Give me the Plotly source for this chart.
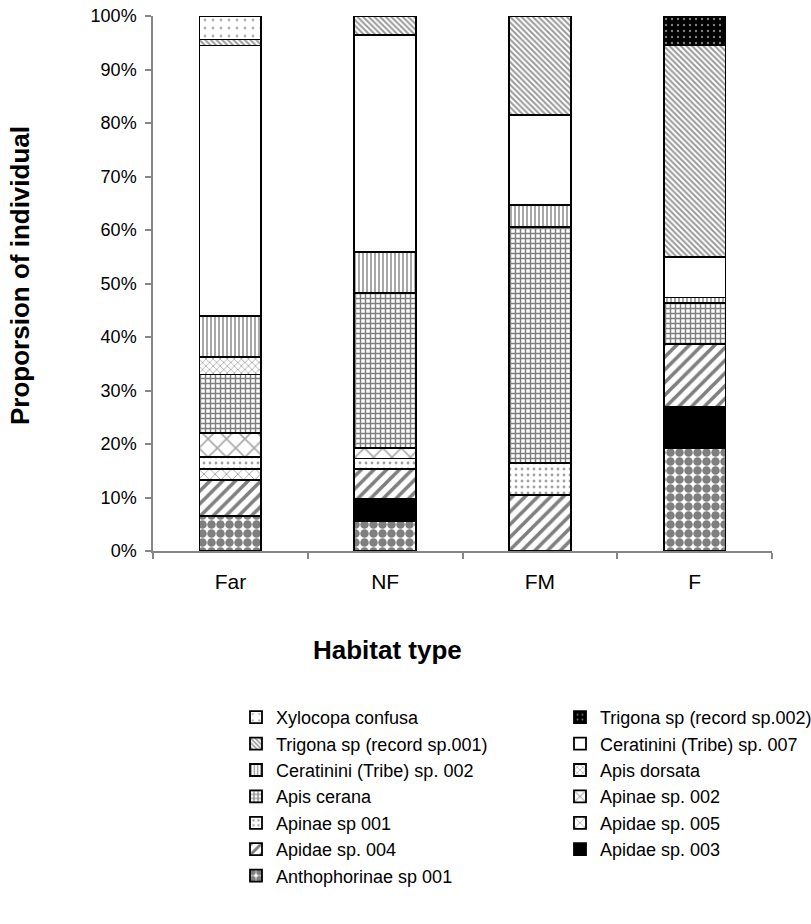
import plotly.graph_objects as go

categories = ["Far", "NF", "FM", "F"]

# Stacking order, bottom to top (legend shows them reversed)
species = [
    "Anthophorinae sp 001",
    "Apidae sp. 003",
    "Apidae sp. 004",
    "Apidae sp. 005",
    "Apinae sp 001",
    "Apinae sp. 002",
    "Apis cerana",
    "Apis dorsata",
    "Ceratinini (Tribe) sp. 002",
    "Ceratinini (Tribe) sp. 007",
    "Trigona sp (record sp.001)",
    "Trigona sp (record sp.002)",
    "Xylocopa confusa",
]

anthophorinae_sp001 = [6.6, 5.6, 0, 19.2]
apidae_sp003 = [0, 4.1, 0, 7.7]
apidae_sp004 = [6.6, 5.7, 10.5, 11.8]
apidae_sp005 = [2.2, 0, 0, 0]
apinae_sp001 = [2.2, 1.9, 6.0, 0]
apinae_sp002 = [4.4, 1.9, 0, 0]
apis_cerana = [11.0, 29.1, 44.0, 7.7]
apis_dorsata = [3.3, 0, 0, 0]
ceratinini_sp002 = [7.7, 7.6, 4.1, 1.0]
ceratinini_sp007 = [50.5, 40.5, 16.9, 7.5]
trigona_sp001 = [1.1, 3.6, 18.5, 39.6]
trigona_sp002 = [0, 0, 0, 5.5]
xylocopa_confusa = [4.4, 0, 0, 0]

values = [
    anthophorinae_sp001, apidae_sp003, apidae_sp004, apidae_sp005,
    apinae_sp001, apinae_sp002, apis_cerana, apis_dorsata,
    ceratinini_sp002, ceratinini_sp007, trigona_sp001, trigona_sp002,
    xylocopa_confusa,
]

y_ticks = [0, 10, 20, 30, 40, 50, 60, 70, 80, 90, 100]

x_title = "Habitat type"
y_title = "Proporsion of individual"

# fill styles: (marker color, pattern dict or None)
styles = [
    ("white", dict(shape=".", fgcolor="black", bgcolor="white", size=9, solidity=0.7)),
    ("black", None),
    ("white", dict(shape="/", fgcolor="black", bgcolor="white", size=9, solidity=0.4)),
    ("white", dict(shape="x", fgcolor="#333333", bgcolor="white", size=8, solidity=0.2)),
    ("white", dict(shape=".", fgcolor="#444444", bgcolor="white", size=6, solidity=0.18)),
    ("white", dict(shape="x", fgcolor="#555555", bgcolor="white", size=13, solidity=0.25)),
    ("white", dict(shape="+", fgcolor="black", bgcolor="white", size=5, solidity=0.5)),
    ("white", dict(shape="x", fgcolor="#555555", bgcolor="white", size=5, solidity=0.3)),
    ("white", dict(shape="|", fgcolor="#222222", bgcolor="white", size=4, solidity=0.4)),
    ("white", None),
    ("white", dict(shape="\\", fgcolor="#333333", bgcolor="white", size=4, solidity=0.5)),
    ("black", dict(shape=".", fgcolor="white", bgcolor="black", size=6, solidity=0.12)),
    ("white", dict(shape=".", fgcolor="#666666", bgcolor="white", size=8, solidity=0.1)),
]

FONT = "Arial, 'Liberation Sans', sans-serif"

fig = go.Figure()
for name, vals, (col, pat) in zip(species, values, styles):
    marker = dict(color=col, line=dict(color="black", width=1.8))
    if pat is not None:
        marker["pattern"] = pat
    fig.add_trace(go.Bar(
        name=name,
        x=categories,
        y=[v if v else None for v in vals],
        marker=marker,
    ))

W, H = 811, 924
L, R, T, B = 0, 0, 16, 373
plot_w = W - L - R
plot_h = H - T - B
AX_LEFT, AX_RIGHT = 153, 772


def px_x(p):
    return (p - L) / plot_w


def px_y(p):
    return (H - B - p) / plot_h


fig.update_layout(
    width=W, height=H,
    barmode="stack",
    bargap=0.6,
    margin=dict(l=L, r=R, t=T, b=B, pad=0, autoexpand=False),
    paper_bgcolor="white",
    plot_bgcolor="white",
    font=dict(family=FONT, size=18, color="black"),
    xaxis=dict(
        domain=[px_x(AX_LEFT), px_x(AX_RIGHT)],
        showline=True, linecolor="#868686", linewidth=1.5,
        ticks="outside", ticklen=6, tickcolor="#868686", tickwidth=1.5,
        tickson="boundaries",
        ticklabelstandoff=11,
        tickfont=dict(size=21),
        automargin=False,
    ),
    yaxis=dict(
        range=[0, 100],
        tickvals=y_ticks,
        ticktext=[f"{t}%" for t in y_ticks],
        showline=True, linecolor="#868686", linewidth=1.5,
        ticks="outside", ticklen=6, tickcolor="#868686", tickwidth=1.5,
        showgrid=False, zeroline=False,
        ticklabelstandoff=5,
        tickfont=dict(size=18),
        automargin=False,
    ),
    legend=dict(
        orientation="h",
        traceorder="reversed",
        x=px_x(236), xanchor="left",
        y=px_y(699), yanchor="top",
        entrywidth=279,
        font=dict(size=18),
        itemclick=False,
    ),
    showlegend=True,
    annotations=[
        dict(text=f"<b>{x_title}</b>", xref="paper", yref="paper",
             x=px_x(387), y=px_y(650), xanchor="center", yanchor="middle",
             showarrow=False, font=dict(size=26)),
        dict(text=f"<b>{y_title}</b>", xref="paper", yref="paper",
             x=px_x(20), y=px_y(276), xanchor="center", yanchor="middle",
             textangle=-90, showarrow=False, font=dict(size=26)),
    ],
)

fig.write_html("out.html")
